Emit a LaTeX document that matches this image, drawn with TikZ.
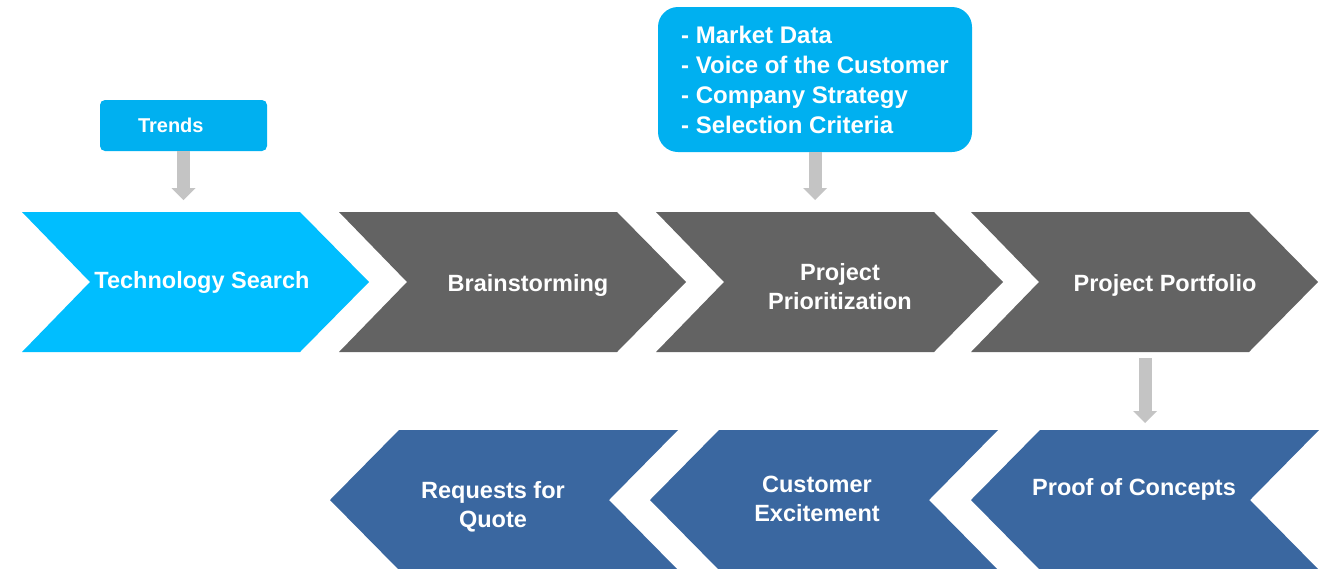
\documentclass[tikz,border=0pt]{standalone}
\usepackage{fontspec}
\setmainfont{Liberation Sans}
\usetikzlibrary{arrows.meta}

\definecolor{skyblue}{RGB}{0,190,255}
\definecolor{boxblue}{RGB}{0,176,240}
\definecolor{stepgray}{RGB}{99,99,99}
\definecolor{navyblue}{RGB}{58,103,160}
\definecolor{arrowgray}{RGB}{196,196,196}

% chevrons: left edge / tip x, middle y, colour
\newcommand{\chevright}[3]{\fill[#3] (#1,#2-70) -- ++(278,0) -- ++(69,70) -- ++(-69,70) -- ++(-278,0) -- ++(68,-70) -- cycle;}
\newcommand{\chevleft}[3]{\fill[#3] (#1,#2) -- ++(69,-70) -- ++(279,0) -- ++(-69,70) -- ++(69,70) -- ++(-279,0) -- cycle;}

\tikzset{
  steptext/.style={text=white, font=\bfseries\fontsize{23.5}{29}\selectfont, align=center, inner sep=0pt},
  flow/.style={arrowgray, line width=13pt, -{Triangle[width=24pt,length=12pt,line width=0pt]}},
}

\begin{document}
\begin{tikzpicture}[x=1pt,y=-1pt]
\useasboundingbox (0,0) rectangle (1332,568);

\chevright{22}{282}{skyblue}
\chevright{339}{282}{stepgray}
\chevright{656}{282}{stepgray}
\chevright{971}{282}{stepgray}
\chevleft{330}{500}{navyblue}
\chevleft{650}{500}{navyblue}
\chevleft{971}{500}{navyblue}

\node[steptext] (tech) at (202,282) {Technology Search};
\node[steptext] (brain) at (528,285) {Brainstorming};
\node[steptext] (prio) at (840,287) {Project\\Prioritization};
\node[steptext] (portfolio) at (1165,285) {Project Portfolio};
\node[steptext] (rfq) at (493,507) {Requests for\\Quote};
\node[steptext] (excite) at (817,499) {Customer\\Excitement};
\node[steptext] (poc) at (1134,489) {Proof of Concepts};

\node[fill=boxblue, rounded corners=5pt, minimum height=51pt, text width=91pt, inner xsep=38pt, align=left,
  text=white, font=\bfseries\fontsize{20}{24}\selectfont] (trends) at (183.5,125.5) {Trends};
\node[fill=boxblue, rounded corners=20pt, minimum width=314pt, minimum height=145pt, align=left,
  text=white, font=\bfseries\fontsize{24}{30}\selectfont] (inputs) at (815,79.5)
  {- Market Data\\- Voice of the Customer\\- Company Strategy\\- Selection Criteria};

\coordinate (techtop) at (183.5,200);
\coordinate (priotop) at (815,200);
\coordinate (pfbottom) at (1145,358);
\coordinate (poctop) at (1145,423);

\draw[flow] (trends.south) -- (techtop);
\draw[flow] (inputs.south) -- (priotop);
\draw[flow] (pfbottom) -- (poctop);
\end{tikzpicture}
\end{document}
